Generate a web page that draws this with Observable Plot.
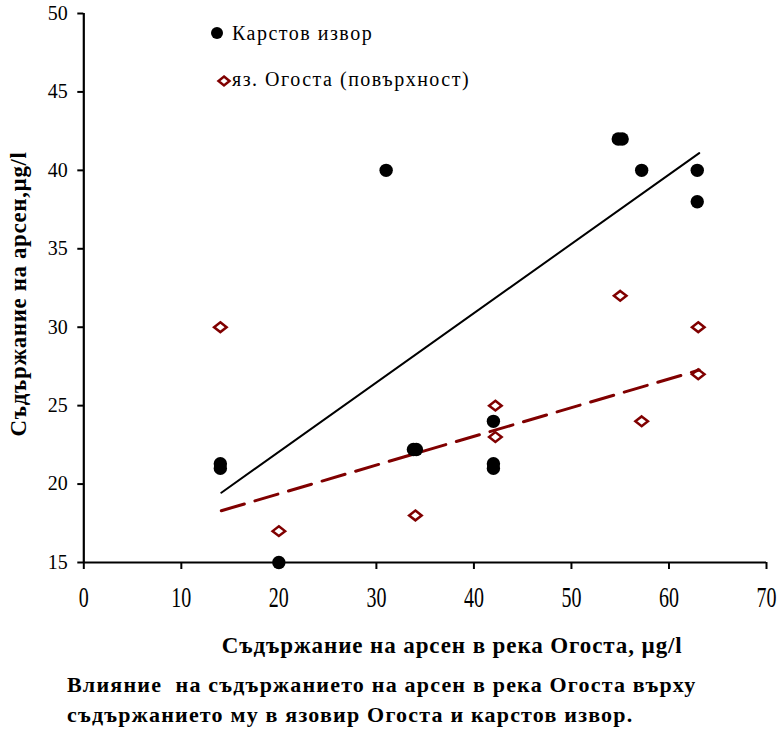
<!DOCTYPE html>
<html>
<head>
<meta charset="utf-8">
<script src="https://cdn.jsdelivr.net/npm/d3@7"></script>
<script src="https://cdn.jsdelivr.net/npm/@observablehq/plot@0.6"></script>
<style>
  html, body { margin: 0; padding: 0; background: white; }
  #wrap { position: relative; width: 778px; height: 729px; font-family: 'Liberation Serif', 'Times New Roman', serif; color: black; overflow: hidden; }
  #legend { position: absolute; left: 208px; top: 18px; font-size: 20px; letter-spacing: 1.5px; }
  .li { position: absolute; white-space: nowrap; line-height: 1; }
  #caption { position: absolute; left: 67px; top: 670px; font-size: 22px; font-weight: bold; letter-spacing: 1.2px; line-height: 30px; white-space: nowrap; }
</style>
</head>
<body>
<div id="wrap">
  <div id="chart"></div>
  <div id="legend"></div>
  <div id="caption"></div>
</div>
<script>
// ---- data ----
const karstX = [14, 14, 20, 31, 33.8, 34.1, 42, 42, 42, 54.8, 55.2, 57.2, 62.9, 62.9];
const karstY = [21, 21.3, 15, 40, 22.2, 22.2, 24, 21, 21.3, 42, 42, 40, 40, 38];
const resX = [14, 20, 34, 42.2, 42.2, 55, 57.2, 63, 63];
const resY = [30, 17, 18, 25, 23, 32, 24, 30, 27];
const trendX = [14.1, 63.1];
const karstTrendY = [19.45, 41.1];
const resTrendY = [18.3, 27.27];
const xTicks = [0, 10, 20, 30, 40, 50, 60, 70];
const yTicks = [15, 20, 25, 30, 35, 40, 45, 50];
const seriesNames = ["Карстов извор", "яз. Огоста (повърхност)"];
const xLabel = "Съдържание на арсен в река Огоста, µg/l";
const yLabel = "Съдържание на арсен,µg/l";
const captionLines = [
  "Влияние  на съдържанието на арсен в река Огоста върху",
  "съдържанието му в язовир Огоста и карстов извор."
];

const karst = karstX.map((x, i) => ({x, y: karstY[i]}));
const res = resX.map((x, i) => ({x, y: resY[i]}));
const karstTrend = trendX.map((x, i) => ({x, y: karstTrendY[i]}));
const resTrend = trendX.map((x, i) => ({x, y: resTrendY[i]}));

const RED = "#800000";
// flattened diamond (wider than tall)
const flatDiamond = {
  draw(ctx, size) {
    const s = Math.sqrt(size);
    const w = s * 0.59, h = s * 0.46;
    ctx.moveTo(0, -h); ctx.lineTo(w, 0); ctx.lineTo(0, h); ctx.lineTo(-w, 0); ctx.closePath();
  }
};

const chart = Plot.plot({
  width: 778,
  height: 670,
  marginLeft: 83.3,
  marginRight: 12,
  marginTop: 13,
  marginBottom: 108,
  style: {fontFamily: "'Liberation Serif', 'Times New Roman', serif", fontSize: "20px", color: "black", background: "white"},
  x: {domain: [0, 70]},
  y: {domain: [15, 50]},
  marks: [
    Plot.axisY({ticks: yTicks, tickSize: 6, tickPadding: 10, label: null, fontSize: 20, strokeWidth: 2}),
    Plot.axisX({ticks: xTicks, tickSize: 7, tickPadding: 17, label: null, fontSize: 29, strokeWidth: 2}),
    Plot.ruleX([0], {stroke: "black", strokeWidth: 2.2}),
    Plot.ruleY([15], {stroke: "black", strokeWidth: 2.2}),
    Plot.line(karstTrend, {x: "x", y: "y", stroke: "black", strokeWidth: 2}),
    Plot.line(resTrend, {x: "x", y: "y", stroke: RED, strokeWidth: 3, strokeDasharray: "24,11"}),
    Plot.dot(res, {x: "x", y: "y", symbol: flatDiamond, r: 6, stroke: RED, strokeWidth: 2.5, fill: "none"}),
    Plot.dot(karst, {x: "x", y: "y", r: 6.7, fill: "black", stroke: "none"}),
    Plot.text([xLabel], {text: d => d, frameAnchor: "bottom", textAnchor: "middle", dx: 27, dy: 90, fontSize: 23, fontWeight: "bold"}),
    Plot.text([yLabel], {text: d => d, frameAnchor: "left", textAnchor: "middle", rotate: -90, dx: -65, dy: 6, fontSize: 23, fontWeight: "bold"})
  ]
});
document.getElementById("chart").appendChild(chart);

// condensed x tick labels
chart.querySelectorAll('g[aria-label="x-axis tick label"] text').forEach(t => {
  const tr = t.getAttribute("transform") || "";
  t.setAttribute("transform", tr + " scale(0.69,1)");
});
// letter spacing for axis titles
chart.querySelectorAll("text").forEach(t => {
  if (t.textContent === xLabel) t.style.letterSpacing = "0.9px";
  if (t.textContent === yLabel) t.style.letterSpacing = "0.6px";
});

// legend
const legend = document.getElementById("legend");
const sym0 = '<svg width="14" height="14" style="position:absolute;left:2px;top:8.3px"><circle cx="7" cy="7" r="6" fill="black"/></svg>';
const sym1 = '<svg width="16" height="14" style="position:absolute;left:8px;top:55.7px"><path d="M8,2.5 L13.5,7 L8,11.5 L2.5,7 Z" fill="none" stroke="' + RED + '" stroke-width="2.5"/></svg>';
legend.innerHTML =
  sym0 + '<div class="li" style="left:24px;top:5px">' + seriesNames[0] + '</div>' +
  sym1 + '<div class="li" style="left:24px;top:51px">' + seriesNames[1] + '</div>';

// caption
document.getElementById("caption").innerHTML = captionLines.map(l => '<div style="white-space:pre">' + l + '</div>').join("");
</script>
</body>
</html>
